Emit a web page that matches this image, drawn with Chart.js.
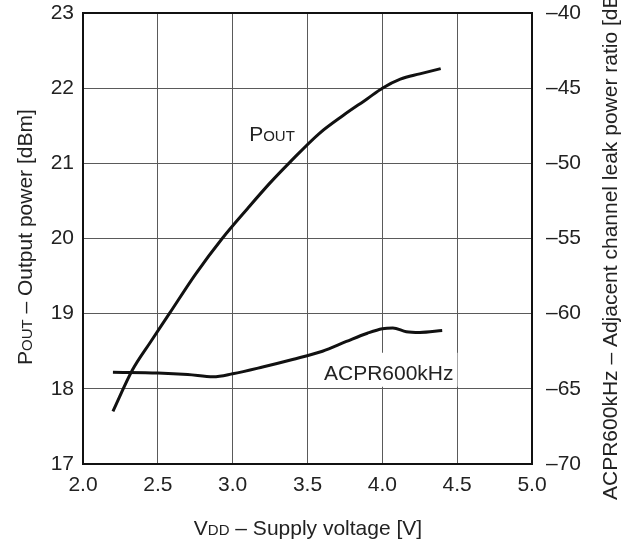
<!DOCTYPE html>
<html lang="en">
  <head>
    <meta charset="utf-8">
    <title>POUT / ACPR vs VDD</title>
    <style>
      html, body {
        margin: 0;
        padding: 0;
        background: #fff;
      }
      .chart-box {
        width: 633px;
        height: 543px;
      }
    </style>
    <script src="https://cdn.jsdelivr.net/npm/chart.js@4.4.4/dist/chart.umd.min.js"></script>
  </head>
  <body>
    <div class="chart-box">
      <canvas id="output-plot" width="633" height="543"></canvas>
    </div>
    <script>
      // supply voltage points
      const vdd_pout = [2.2, 2.33, 2.45, 2.58, 2.75, 2.93, 3.1, 3.25, 3.38, 3.58, 3.74, 3.9, 4.0, 4.12, 4.25, 4.39];
      const pout_dbm = [17.7, 18.25, 18.62, 19.01, 19.52, 20.0, 20.4, 20.74, 21.01, 21.4, 21.64, 21.86, 22.0, 22.12, 22.19, 22.26];

      const vdd_acpr = [2.2, 2.5, 2.7, 2.87, 3.0, 3.2, 3.4, 3.6, 3.76, 3.9, 4.0, 4.07, 4.16, 4.25, 4.4];
      const acpr_db = [-63.9, -63.95, -64.05, -64.2, -64.0, -63.55, -63.05, -62.5, -61.85, -61.3, -61.0, -60.95, -61.2, -61.25, -61.12];

      const x_ticks = [2.0, 2.5, 3.0, 3.5, 4.0, 4.5, 5.0];
      const left_ticks = [17, 18, 19, 20, 21, 22, 23];
      const right_ticks = [-70, -65, -60, -55, -50, -45, -40];

      const FONT = '"Liberation Sans", Arial, sans-serif';
      const BIG = 21;
      const SMALL = 15;

      function toPoints(xs, ys) {
        return xs.map((x, i) => ({x: x, y: ys[i]}));
      }

      // draws text made of pieces with different sizes (fake small caps)
      function drawParts(ctx, parts, x, y, angle, align) {
        ctx.save();
        ctx.translate(x, y);
        ctx.rotate(angle);
        ctx.textBaseline = 'alphabetic';
        ctx.textAlign = 'left';
        let total = 0;
        parts.forEach(p => {
          ctx.font = p[1] + 'px ' + FONT;
          total += ctx.measureText(p[0]).width;
        });
        let cx = 0;
        if (align == 'center') cx = -total / 2;
        if (align == 'right') cx = -total;
        parts.forEach(p => {
          ctx.font = p[1] + 'px ' + FONT;
          ctx.fillText(p[0], cx, 0);
          cx += ctx.measureText(p[0]).width;
        });
        ctx.restore();
      }

      const extras = {
        id: 'extras',
        beforeDatasetsDraw(chart) {
          const ctx = chart.ctx;
          const a = chart.chartArea;
          const xs = chart.scales.x;
          const yl = chart.scales.y;
          ctx.save();
          // white patch behind the ACPR label
          ctx.fillStyle = '#fff';
          ctx.fillRect(xs.getPixelForValue(3.6), yl.getPixelForValue(18.48), 135, 34);
          // frame
          ctx.strokeStyle = '#111';
          ctx.lineWidth = 2;
          ctx.strokeRect(a.left, a.top, a.right - a.left, a.bottom - a.top);
          ctx.restore();
        },
        afterDraw(chart) {
          const ctx = chart.ctx;
          const xs = chart.scales.x;
          const yl = chart.scales.y;
          ctx.save();
          ctx.fillStyle = '#222';
          // curve labels
          drawParts(ctx, [['P', BIG], ['OUT', SMALL]], xs.getPixelForValue(3.11), yl.getPixelForValue(21.3), 0, 'left');
          drawParts(ctx, [['ACPR600kHz', BIG]], xs.getPixelForValue(3.61), yl.getPixelForValue(18.12), 0, 'left');
          // axis titles
          drawParts(ctx, [['V', BIG], ['DD', SMALL], [' \u2013 Supply voltage [V]', BIG]], 308, 535, 0, 'center');
          drawParts(ctx, [['P', BIG], ['OUT', SMALL], [' \u2013 Output power [dBm]', BIG]], 32, 365, -Math.PI / 2, 'left');
          drawParts(ctx, [['ACPR600kHz \u2013 Adjacent channel leak power ratio [dBc]', BIG]], 617, 500, -Math.PI / 2, 'left');
          ctx.restore();
        }
      };

      const grid_color = '#5a5a5a';

      function noPad(axis) {
        axis.paddingTop = 0;
        axis.paddingBottom = 0;
      }

      const plot = new Chart(document.getElementById('output-plot'), {
        type: 'line',
        data: {
          datasets: [
            {
              label: 'POUT',
              data: toPoints(vdd_pout, pout_dbm),
              yAxisID: 'y',
              borderColor: '#111',
              borderWidth: 3,
              pointRadius: 0,
              fill: false,
              cubicInterpolationMode: 'monotone'
            },
            {
              label: 'ACPR600kHz',
              data: toPoints(vdd_acpr, acpr_db),
              yAxisID: 'y2',
              borderColor: '#111',
              borderWidth: 3,
              pointRadius: 0,
              fill: false,
              cubicInterpolationMode: 'monotone'
            }
          ]
        },
        options: {
          responsive: false,
          animation: false,
          layout: {
            padding: {top: 13, left: 0, right: 0, bottom: 0}
          },
          plugins: {
            legend: {display: false},
            tooltip: {enabled: false}
          },
          scales: {
            x: {
              type: 'linear',
              min: 2,
              max: 5,
              afterBuildTicks: axis => {
                axis.ticks = x_ticks.map(v => ({value: v}));
              },
              afterFit: axis => {
                axis.height = 79;
              },
              ticks: {
                callback: v => v.toFixed(1),
                color: '#222',
                font: {family: FONT, size: BIG},
                padding: 9,
                maxRotation: 0
              },
              grid: {color: grid_color, lineWidth: 1, drawTicks: false},
              border: {display: false}
            },
            y: {
              position: 'left',
              min: 17,
              max: 23,
              afterBuildTicks: axis => {
                axis.ticks = left_ticks.map(v => ({value: v}));
              },
              afterFit: axis => {
                axis.width = 83;
                noPad(axis);
              },
              ticks: {
                color: '#222',
                font: {family: FONT, size: BIG},
                padding: 9
              },
              grid: {color: grid_color, lineWidth: 1, drawTicks: false},
              border: {display: false}
            },
            y2: {
              position: 'right',
              min: -70,
              max: -40,
              afterBuildTicks: axis => {
                axis.ticks = right_ticks.map(v => ({value: v}));
              },
              afterFit: axis => {
                axis.width = 101;
                noPad(axis);
              },
              ticks: {
                callback: v => '\u2013' + Math.abs(v),
                color: '#222',
                font: {family: FONT, size: BIG},
                padding: 14
              },
              grid: {drawOnChartArea: false, drawTicks: false},
              border: {display: false}
            }
          }
        },
        plugins: [extras]
      });
    </script>
  </body>
</html>
